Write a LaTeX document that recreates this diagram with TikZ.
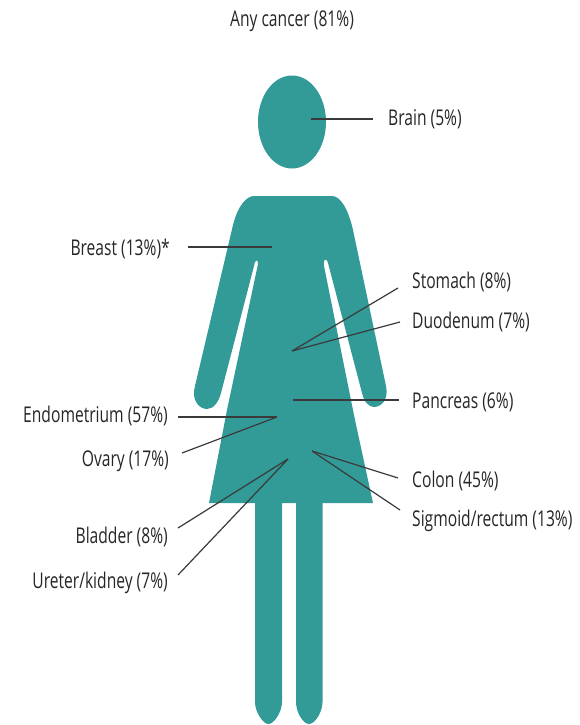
\documentclass[tikz,border=0pt]{standalone}
\usepackage{fontspec}
\setmainfont[FakeStretch=0.72]{Open Sans}
\definecolor{teal1}{HTML}{329A97}
\definecolor{ink}{HTML}{3A3A3A}
\tikzset{
  figure/.style={fill=teal1,draw=none},
  lbl/.style={font=\fontsize{21.7}{24}\selectfont,text=black!85,inner sep=0pt},
  lead/.style={draw=ink,line width=1.2pt}
}
\begin{document}
\begin{tikzpicture}[x=1pt,y=-1pt]
\useasboundingbox (0,0) rectangle (579,725);
% figure
\fill[figure] (292,122) ellipse [x radius=34, y radius=46.5];
\fill[figure] (254,196)
  .. controls (247,196) and (238,205) .. (233,225)
  -- (195,386)
  .. controls (191,400) and (199,409) .. (207,409)
  .. controls (214,409) and (219,401) .. (221,393)
  -- (254,266)
  .. controls (255,259) and (258,259) .. (258,264)
  -- (227,410)
  -- (209,503) -- (373,503) -- (355,420)
  -- (324,266)
  .. controls (323,259) and (326,257) .. (328,263)
  -- (362,393)
  .. controls (364,402) and (369,407) .. (374,407)
  .. controls (381,407) and (389,400) .. (386,386)
  -- (353,230)
  .. controls (348,208) and (340,196) .. (332,196)
  -- cycle;
\fill[figure] (255,500) -- (282,500) -- (282,702)
  .. controls (282,712) and (274,724) .. (268.5,724)
  .. controls (263,724) and (255,712) .. (255,702) -- cycle;
\fill[figure] (296,500) -- (322.5,500) -- (322.5,702)
  .. controls (322.5,712) and (315,724) .. (309,724)
  .. controls (303,724) and (296,712) .. (296,702) -- cycle;
% labels
\node[lbl] (any) at (292,21.5) {Any cancer (81\%)};
\node[lbl,anchor=west] (brain) at (388,119.5) {Brain (5\%)};
\node[lbl,anchor=east] (breast) at (170,249) {Breast (13\%)*};
\node[lbl,anchor=west] (stomach) at (412,282) {Stomach (8\%)};
\node[lbl,anchor=west] (duod) at (412,322) {Duodenum (7\%)};
\node[lbl,anchor=west] (pancreas) at (412,402) {Pancreas (6\%)};
\node[lbl,anchor=east] (endo) at (168,416) {Endometrium (57\%)};
\node[lbl,anchor=east] (ovary) at (169,461.5) {Ovary (17\%)};
\node[lbl,anchor=west] (colon) at (412,481) {Colon (45\%)};
\node[lbl,anchor=west] (sigmoid) at (412,521) {Sigmoid/rectum (13\%)};
\node[lbl,anchor=east] (bladder) at (168,537) {Bladder (8\%)};
\node[lbl,anchor=east] (ureter) at (168,582.5) {Ureter/kidney (7\%)};
% connector ends
\coordinate (cBrainA) at (311,119); \coordinate (cBrainB) at (373,119);
\coordinate (cBreastA) at (188,247); \coordinate (cBreastB) at (272,247);
\coordinate (cUpper) at (292,351);
\coordinate (cStomach) at (398,288); \coordinate (cDuod) at (400,322);
\coordinate (cPancA) at (293,400); \coordinate (cPancB) at (399,400);
\coordinate (cEndoA) at (178,417); \coordinate (cPelvis) at (277,417);
\coordinate (cOvary) at (182,453);
\coordinate (cRight) at (312,451);
\coordinate (cColon) at (398,478); \coordinate (cSigmoid) at (400,510);
\coordinate (cLeft) at (288,459);
\coordinate (cBladder) at (178,528); \coordinate (cUreter) at (178,575);
\draw[lead] (cBrainA) -- (cBrainB);
\draw[lead] (cBreastA) -- (cBreastB);
\draw[lead] (cUpper) -- (cStomach);
\draw[lead] (cUpper) -- (cDuod);
\draw[lead] (cPancA) -- (cPancB);
\draw[lead] (cEndoA) -- (cPelvis);
\draw[lead] (cOvary) -- (cPelvis);
\draw[lead] (cRight) -- (cColon);
\draw[lead] (cRight) -- (cSigmoid);
\draw[lead] (cLeft) -- (cBladder);
\draw[lead] (cLeft) -- (cUreter);
\end{tikzpicture}
\end{document}
